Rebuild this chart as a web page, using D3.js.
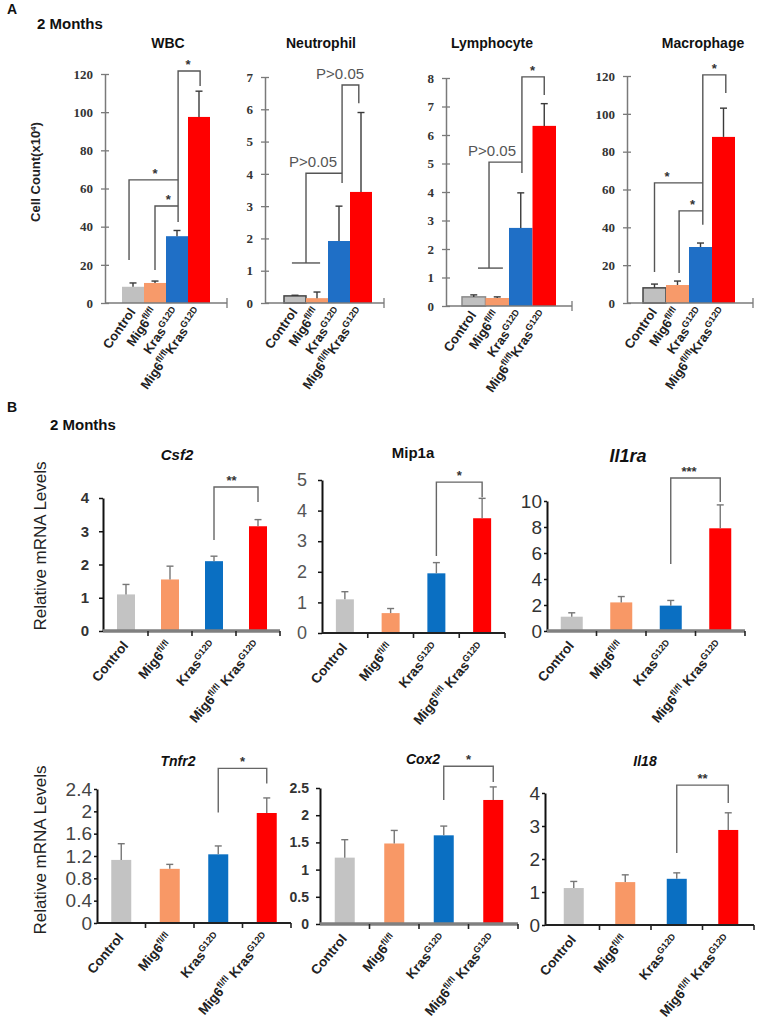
<!DOCTYPE html>
<html><head><meta charset="utf-8">
<script src="https://cdn.jsdelivr.net/npm/d3@7"></script>
<style>body{margin:0;background:#fff}</style>
</head><body>
<svg id="c" width="758" height="1020"></svg>
<script>
// ---------- data ----------
const groupsA = ["Control", "Mig6^{fl/fl}", "Kras^{G12D}", "Mig6^{fl/fl}Kras^{G12D}"];
const groupsB = ["Control", "Mig6^{fl/fl}", "Kras^{G12D}", "Mig6^{fl/fl} Kras^{G12D}"];
const colorsA = ["#c0c0c0", "#f79a6a", "#1f6fc6", "#ff0000"];
const colorsB = ["#c3c3c3", "#f89866", "#0a6fc2", "#ff0000"];

// Panel A: cell counts (x10^4), mean and error (SE)
const wbcMean   = [8.5, 10.5, 35, 97.5];  const wbcErr   = [2, 1, 3, 13.5];
const neutMean  = [0.22, 0.15, 1.92, 3.44]; const neutErr  = [0.02, 0.19, 1.08, 2.46];
const lymphMean = [0.32, 0.28, 2.74, 6.32]; const lymphErr = [0.07, 0.04, 1.23, 0.78];
const macroMean = [8, 9.5, 29.6, 87.8];   const macroErr = [2, 2.1, 2.1, 15.2];

// Panel B: relative mRNA levels
const csf2Mean  = [1.1, 1.55, 2.1, 3.15];  const csf2Err  = [0.3, 0.4, 0.15, 0.2];
const mip1aMean = [1.1, 0.65, 1.95, 3.75]; const mip1aErr = [0.25, 0.15, 0.35, 0.65];
const il1raMean = [1.1, 2.2, 1.95, 7.9];   const il1raErr = [0.3, 0.45, 0.4, 1.8];
const tnfr2Mean = [1.13, 0.97, 1.23, 1.97]; const tnfr2Err = [0.29, 0.08, 0.15, 0.27];
const cox2Mean  = [1.22, 1.48, 1.63, 2.28]; const cox2Err  = [0.33, 0.24, 0.17, 0.24];
const il18Mean  = [1.12, 1.3, 1.4, 2.88];  const il18Err  = [0.2, 0.22, 0.18, 0.52];

// significance brackets: polylines in (group index, value) units
const wbcSig = [
  {pts: [[2.05, 42.5], [2.05, 121.6], [3.05, 121.6], [3.05, 113.7]], label: "*", lx: 2.5, ly: 121.6},
  {pts: [[-0.18, 22.5], [-0.18, 64.5], [2.05, 64.5]], label: "*", lx: 1.0, ly: 64.5},
  {pts: [[1, 17.3], [1, 50.8], [2.05, 50.8]], label: "*", lx: 1.6, ly: 50.8}
];
const neutSig = [
  {pts: [[2.14, 3.72], [2.14, 6.75], [2.9, 6.75], [2.9, 6.19]], label: "P>0.05", lx: 2.05, ly: 6.75},
  {pts: [[0.5, 1.24], [0.5, 4.02], [2.14, 4.02]], label: "P>0.05", lx: 0.82, ly: 4.02},
  {pts: [[-0.14, 1.24], [1.14, 1.24]]}
];
const lymphSig = [
  {pts: [[2.05, 4.67], [2.05, 8.04], [3.0, 8.04], [3.0, 7.4]], label: "*", lx: 2.5, ly: 8.04},
  {pts: [[0.65, 1.33], [0.65, 5.05], [2.05, 5.05]], label: "P>0.05", lx: 0.78, ly: 5.05},
  {pts: [[0.18, 1.33], [1.24, 1.33]]}
];
const macroSig = [
  {pts: [[2.1, 41.3], [2.1, 120.6], [3.1, 120.6], [3.1, 111]], label: "*", lx: 2.6, ly: 120.6},
  {pts: [[0, 16.4], [0, 63.5], [2.1, 63.5]], label: "*", lx: 0.55, ly: 63.5},
  {pts: [[1.07, 15.9], [1.07, 48.7], [2.1, 48.7]], label: "*", lx: 1.65, ly: 48.7}
];
const csf2Sig  = [{pts: [[2, 2.74], [2, 4.33], [3, 4.33], [3, 3.88]], label: "**", lx: 2.4, ly: 4.33}];
const mip1aSig = [{pts: [[2, 2.52], [2, 4.93], [3, 4.93], [3, 4.44]], label: "*", lx: 2.5, ly: 4.93}];
const il1raSig = [{pts: [[2, 5.15], [2, 11.77], [3, 11.77], [3, 9.92]], label: "***", lx: 2.37, ly: 11.77}];
const tnfr2Sig = [{pts: [[2, 1.98], [2, 2.77], [3, 2.77], [3, 2.5]], label: "*", lx: 2.5, ly: 2.77}];
const cox2Sig  = [{pts: [[2, 2.28], [2, 2.9], [3, 2.9], [3, 2.61]], label: "*", lx: 2.5, ly: 2.9}];
const il18Sig  = [{pts: [[2, 2.18], [2, 4.24], [3, 4.24], [3, 3.7]], label: "**", lx: 2.5, ly: 4.24}];

// ---------- layout ----------
const svg = d3.select("#c");
const FONT = "'Liberation Sans', Arial, sans-serif";

const chartsA = [
  {title: "WBC", tx: 168, mean: wbcMean, err: wbcErr, sig: wbcSig, yMax: 120, step: 20,
   axisX: 105, xEnd: 227, band: [122, 210], yRange: [303, 74], outline: null},
  {title: "Neutrophil", tx: 321, mean: neutMean, err: neutErr, sig: neutSig, yMax: 7, step: 1,
   axisX: 265, xEnd: 384, band: [284, 372], yRange: [303, 77], outline: "#444"},
  {title: "Lymphocyte", tx: 492, mean: lymphMean, err: lymphErr, sig: lymphSig, yMax: 8, step: 1,
   axisX: 446, xEnd: 572, band: [462, 556], yRange: [306, 78], outline: "#8a8a8a"},
  {title: "Macrophage", tx: 703, mean: macroMean, err: macroErr, sig: macroSig, yMax: 120, step: 20,
   axisX: 627, xEnd: 753, band: [643, 735], yRange: [303, 76], outline: "#444"}
];

const chartsB = [
  {title: "Csf2", italic: true, tx: 177, ty: 455, tsize: 15, mean: csf2Mean, err: csf2Err, sig: csf2Sig,
   yMax: 4, step: 1, axisX: 103, xEnd: 280, band: [104, 280], barW: 18, yRange: [631, 498],
   tick: {size: 15, weight: "bold", fill: "#333", len: 4, pad: 10}, xAxisColor: "#808080", xAxisW: 3.5},
  {title: "Mip1a", italic: false, tx: 413, ty: 453, tsize: 15, mean: mip1aMean, err: mip1aErr, sig: mip1aSig,
   yMax: 5, step: 1, axisX: 322, xEnd: 505, band: [322, 505], barW: 18, yRange: [633, 480],
   tick: {size: 18, weight: "normal", fill: "#555", len: 4, pad: 11}, xAxisColor: "#222", xAxisW: 2},
  {title: "Il1ra", italic: true, tx: 628, ty: 457, tsize: 18, mean: il1raMean, err: il1raErr, sig: il1raSig,
   yMax: 10, step: 2, axisX: 547, xEnd: 745, band: [547, 745], barW: 22, yRange: [631, 501],
   tick: {size: 19, weight: "normal", fill: "#333", len: 3, pad: 2}, xAxisColor: "#808080", xAxisW: 3.5},
  {title: "Tnfr2", italic: true, tx: 178, ty: 761, tsize: 14, mean: tnfr2Mean, err: tnfr2Err, sig: tnfr2Sig,
   yMax: 2.4, step: 0.4, axisX: 97, xEnd: 291, band: [97, 291], barW: 20, yRange: [923, 789],
   tick: {size: 19, weight: "normal", fill: "#444", len: 3, pad: 2}, xAxisColor: "#222", xAxisW: 2},
  {title: "Cox2", italic: true, tx: 423, ty: 759, tsize: 14, mean: cox2Mean, err: cox2Err, sig: cox2Sig,
   yMax: 2.5, step: 0.5, axisX: 320, xEnd: 518, band: [320, 518], barW: 20, yRange: [924, 788],
   tick: {size: 14, weight: "bold", fill: "#333", len: 4, pad: 7}, xAxisColor: "#808080", xAxisW: 3.5},
  {title: "Il18", italic: true, tx: 645, ty: 761, tsize: 14, mean: il18Mean, err: il18Err, sig: il18Sig,
   yMax: 4, step: 1, axisX: 545, xEnd: 754, band: [548, 754], barW: 20, yRange: [925, 793],
   tick: {size: 19, weight: "normal", fill: "#333", len: 3, pad: 2}, xAxisColor: "#222", xAxisW: 2}
];

// ---------- helpers ----------
function richLabel(sel, str, size, supSize) {
  const parts = str.split(/\^\{([^}]*)\}/);
  parts.forEach((p, i) => {
    if (!p) return;
    const t = sel.append("tspan").text(p);
    if (i % 2 === 1) t.attr("font-size", supSize).attr("baseline-shift", "super");
  });
}
const fmt = v => String(+v.toFixed(2));

function drawChart(c, panel) {
  const g = svg.append("g");
  const y = d3.scaleLinear().domain([0, c.yMax]).range(c.yRange);
  const x = d3.scaleBand().domain(d3.range(4)).range(c.band).padding(0);
  const bw = x.bandwidth();
  const cx = i => x(i) + bw / 2;
  const gx = u => x(0) + bw / 2 + u * bw;
  const y0 = y(0);
  const colors = panel === "A" ? colorsA : colorsB;
  const barW = panel === "A" ? bw : c.barW;
  const ticks = d3.range(0, c.yMax + 1e-6, c.step).map(v => +v.toFixed(2));

  // title
  if (panel === "A") {
    g.append("text").attr("x", c.tx).attr("y", 48).attr("text-anchor", "middle")
      .attr("font-family", FONT).attr("font-weight", "bold").attr("font-size", 14).attr("fill", "#111").text(c.title);
  } else {
    g.append("text").attr("x", c.tx).attr("y", c.ty + 5).attr("text-anchor", "middle")
      .attr("font-family", FONT).attr("font-weight", "bold").attr("font-style", c.italic ? "italic" : "normal")
      .attr("font-size", c.tsize).attr("fill", "#111").text(c.title);
  }

  // bars
  g.selectAll(".bar").data(c.mean).enter().append("rect")
    .attr("x", (d, i) => cx(i) - barW / 2).attr("width", barW)
    .attr("y", d => y(d)).attr("height", d => y0 - y(d))
    .attr("fill", (d, i) => colors[i])
    .attr("stroke", (d, i) => (panel === "A" && i === 0 && c.outline) ? c.outline : "none")
    .attr("stroke-width", 1.5);

  // error bars
  const ec = panel === "A" ? "#3a3a3a" : "#777";
  c.mean.forEach((m, i) => {
    const top = y(m + c.err[i]);
    g.append("line").attr("x1", cx(i)).attr("x2", cx(i)).attr("y1", y(m)).attr("y2", top)
      .attr("stroke", ec).attr("stroke-width", 1.4);
    g.append("line").attr("x1", cx(i) - 3.5).attr("x2", cx(i) + 3.5).attr("y1", top).attr("y2", top)
      .attr("stroke", ec).attr("stroke-width", 1.4);
  });

  // y axis
  const ax = g.append("g").attr("transform", `translate(${c.axisX},0)`);
  if (panel === "A") {
    ax.call(d3.axisLeft(y).tickValues(ticks).tickSize(4).tickPadding(8).tickSizeOuter(0).tickFormat(fmt));
    ax.select(".domain").attr("stroke", "#7a7a7a").attr("stroke-width", 1.5);
    ax.selectAll(".tick line").attr("x1", 4).attr("stroke", "#7a7a7a").attr("stroke-width", 1.3);
    ax.selectAll(".tick text").attr("font-family", "'Liberation Serif', 'Times New Roman', serif")
      .attr("font-weight", "bold").attr("font-size", 13).attr("fill", "#333");
  } else {
    const t = c.tick;
    ax.call(d3.axisLeft(y).tickValues(ticks).tickSize(t.len).tickPadding(t.pad).tickSizeOuter(0).tickFormat(fmt));
    ax.select(".domain").attr("stroke", "#111").attr("stroke-width", 2);
    ax.selectAll(".tick line").attr("stroke", "#111").attr("stroke-width", 1.5);
    ax.selectAll(".tick text").attr("font-family", FONT).attr("font-weight", t.weight)
      .attr("font-size", t.size).attr("fill", t.fill);
  }

  // x axis
  if (panel === "A") {
    g.append("line").attr("x1", c.axisX).attr("x2", c.xEnd).attr("y1", y0).attr("y2", y0)
      .attr("stroke", "#7a7a7a").attr("stroke-width", 1.5);
    g.append("line").attr("x1", c.xEnd).attr("x2", c.xEnd).attr("y1", y0 - 5).attr("y2", y0 + 5)
      .attr("stroke", "#7a7a7a").attr("stroke-width", 1.3);
  } else {
    g.append("line").attr("x1", c.axisX).attr("x2", c.xEnd).attr("y1", y0).attr("y2", y0)
      .attr("stroke", c.xAxisColor).attr("stroke-width", c.xAxisW);
    [1, 2, 3, 4].forEach(k => {
      const xx = k < 4 ? x(k) : c.band[1];
      g.append("line").attr("x1", xx).attr("x2", xx).attr("y1", y0).attr("y2", y0 + 5)
        .attr("stroke", "#222").attr("stroke-width", 1.6);
    });
  }

  // category labels
  const labels = panel === "A" ? groupsA : groupsB;
  const fs = panel === "A" ? 13 : 13.5;
  const rot = panel === "A" ? -55 : -50;
  const dy = panel === "A" ? 9 : 15;
  labels.forEach((lab, i) => {
    const tx = cx(i) + 3, ty = y0 + dy;
    const t = g.append("text").attr("transform", `translate(${tx},${ty}) rotate(${rot})`)
      .attr("text-anchor", "end").attr("font-family", FONT).attr("font-weight", "bold")
      .attr("font-size", fs).attr("fill", "#222");
    richLabel(t, lab, fs, 9);
  });

  // significance brackets
  const bc = panel === "A" ? "#555" : "#666";
  c.sig.forEach(s => {
    g.append("path").attr("d", d3.line().x(p => gx(p[0])).y(p => y(p[1]))(s.pts))
      .attr("fill", "none").attr("stroke", bc).attr("stroke-width", 1.4);
    if (s.label) {
      const isP = s.label.startsWith("P");
      g.append("text").attr("x", gx(s.lx)).attr("y", y(s.ly) - (isP ? 6 : 2))
        .attr("text-anchor", "middle").attr("font-family", FONT)
        .attr("font-weight", isP ? "normal" : "bold")
        .attr("font-size", isP ? 15 : 13).attr("fill", isP ? "#555" : "#333").text(s.label);
    }
  });
}

// ---------- panel texts ----------
function txt(x, y, s, size, weight) {
  return svg.append("text").attr("x", x).attr("y", y).attr("font-family", FONT)
    .attr("font-size", size).attr("font-weight", weight || "bold").attr("fill", "#111").text(s);
}
txt(7, 14, "A", 14);
txt(37, 29, "2 Months", 15);
txt(7, 412, "B", 14);
txt(50, 430, "2 Months", 15);

// y axis titles
const ylA = svg.append("text").attr("transform", "translate(40,172) rotate(-90)")
  .attr("text-anchor", "middle").attr("font-family", FONT).attr("font-weight", "bold")
  .attr("font-size", 13).attr("fill", "#222");
ylA.append("tspan").text("Cell Count(x10");
ylA.append("tspan").text("4").attr("font-size", 8).attr("baseline-shift", "super");
ylA.append("tspan").text(")");

[546, 850].forEach(cy => {
  svg.append("text").attr("transform", `translate(46,${cy}) rotate(-90)`)
    .attr("text-anchor", "middle").attr("font-family", FONT)
    .attr("font-size", 17).attr("fill", "#222").text("Relative mRNA  Levels");
});

chartsA.forEach(c => drawChart(c, "A"));
chartsB.forEach(c => drawChart(c, "B"));
</script>
</body></html>
